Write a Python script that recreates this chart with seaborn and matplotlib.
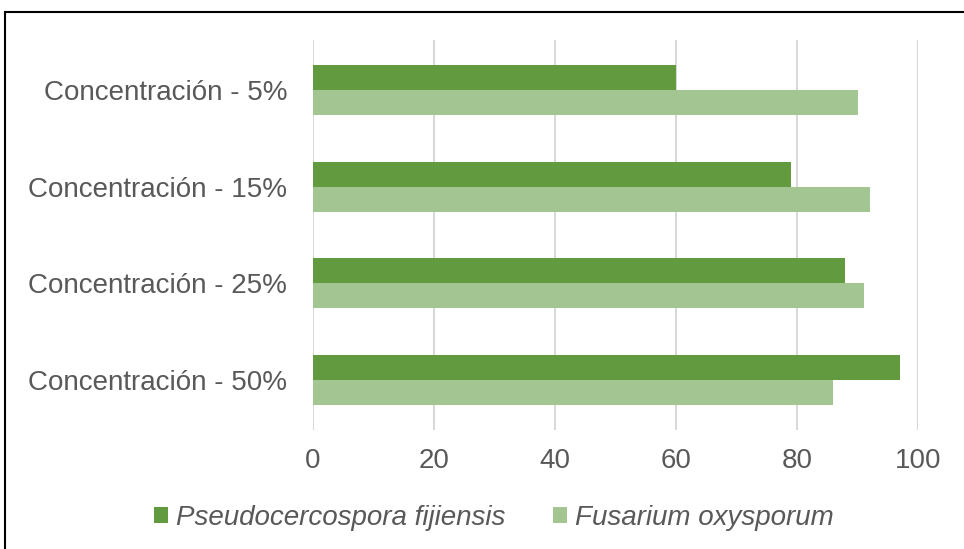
import matplotlib
matplotlib.use("Agg")
import matplotlib.pyplot as plt
from matplotlib.patches import Rectangle
import seaborn as sns
import pandas as pd

categories = ["Concentración - 5%", "Concentración - 15%",
              "Concentración - 25%", "Concentración - 50%"]
series_names = ["Pseudocercospora fijiensis", "Fusarium oxysporum"]
pseudocercospora = [60, 79, 88, 97]
fusarium = [90, 92, 91, 86]
x_ticks = [0, 20, 40, 60, 80, 100]

colors = ["#629A3F", "#A3C591"]
text_color = "#595959"

sns.set_theme(style="white")
plt.rcParams["font.family"] = ["Liberation Sans", "DejaVu Sans"]

df = pd.DataFrame({
    "categoria": categories * 2,
    "valor": pseudocercospora + fusarium,
    "serie": [series_names[0]] * 4 + [series_names[1]] * 4,
})

fig = plt.figure(figsize=(9.64, 5.49), dpi=100)
ax = fig.add_axes([313 / 964, 119 / 549, 605 / 964, 390 / 549])

sns.barplot(data=df, x="valor", y="categoria", hue="serie", orient="h",
            order=categories, hue_order=series_names, palette=colors,
            width=0.52, gap=0, saturation=1, ax=ax, legend=False,
            edgecolor="none", linewidth=0)

ax.set_xlim(0, 100)
ax.set_ylim(3.52, -0.52)
ax.set_xticks(x_ticks)
ax.set_xticklabels([str(t) for t in x_ticks])
ax.set_xlabel("")
ax.set_ylabel("")
ax.grid(axis="x", color="#D9D9D9", linewidth=1.5)
ax.set_axisbelow(True)
for s in ax.spines.values():
    s.set_visible(False)
ax.tick_params(axis="both", length=0, labelsize=20, labelcolor=text_color)
ax.tick_params(axis="x", pad=13)
ax.tick_params(axis="y", pad=18.5)

handles = [Rectangle((0, 0), 1, 1, facecolor=c, edgecolor="none") for c in colors]
leg = fig.legend(handles, series_names, loc="center", ncol=2,
                 bbox_to_anchor=(494 / 964, 1 - 518 / 549), frameon=False,
                 fontsize=20, handlelength=0.5, handleheight=0.5,
                 handletextpad=0.3, columnspacing=1.7)
for t in leg.get_texts():
    t.set_color(text_color)
    t.set_fontstyle("italic")

# outer chart frame
fig.patches.append(Rectangle((5 / 964, -0.1), 2.0, 0.1 + 537 / 549,
                             transform=fig.transFigure, fill=False,
                             edgecolor="black", linewidth=1.5))

fig.savefig("out.png", dpi=100)
